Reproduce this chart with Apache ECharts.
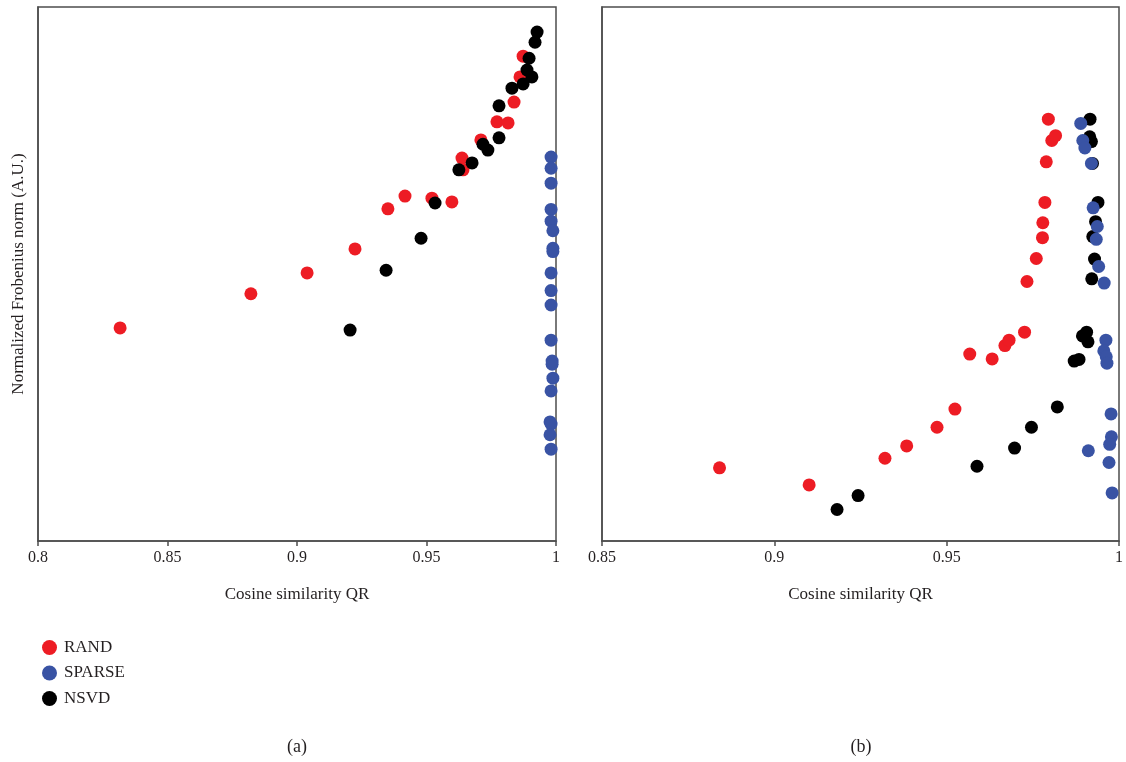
<!DOCTYPE html>
<html lang="en">
  <head>
    <meta charset="UTF-8" />
    <title>Cosine similarity QR vs Frobenius norm</title>
    <script src="https://cdn.jsdelivr.net/npm/echarts@6/dist/echarts.min.js"></script>
    <style>
      html, body { margin: 0; padding: 0; background: #fff; }
    </style>
  </head>
  <body>
    <div id="main" style="width: 1126px; height: 762px"></div>
    <script type="text/javascript">
      // panel (a): [cosine similarity, normalized norm]
      const randA = [
        [0.8317, 39.9], [0.8822, 46.3], [0.9039, 50.2], [0.9224, 54.7], [0.9351, 62.2],
        [0.9417, 64.6], [0.9521, 64.2], [0.9598, 63.5], [0.9637, 71.7], [0.9641, 69.5],
        [0.971, 75.1], [0.9772, 78.5], [0.9815, 78.3], [0.9838, 82.2], [0.9861, 86.9],
        [0.9873, 90.8]
      ];
      const sparseA = [
        [0.9981, 71.9], [0.9981, 69.8], [0.9981, 67.0], [0.9981, 62.1], [0.9981, 59.9],
        [0.9988, 58.1], [0.9988, 54.8], [0.9988, 54.2], [0.9981, 50.2], [0.9981, 46.9],
        [0.9981, 44.2], [0.9981, 37.6], [0.9985, 33.7], [0.9985, 33.1], [0.9988, 30.5],
        [0.9981, 28.1], [0.9977, 22.3], [0.9981, 21.9], [0.9977, 19.9], [0.9981, 17.2]
      ];
      const nsvdA = [
        [0.9205, 39.5], [0.9344, 50.7], [0.9479, 56.7], [0.9533, 63.3], [0.9625, 69.5],
        [0.9676, 70.8], [0.9718, 74.3], [0.9737, 73.2], [0.978, 75.5], [0.978, 81.5],
        [0.983, 84.8], [0.9873, 85.6], [0.9888, 88.2], [0.9907, 86.9], [0.9896, 90.4],
        [0.9919, 93.4], [0.9927, 95.3]
      ];

      // panel (b)
      const randB = [
        [0.8841, 13.7], [0.9101, 10.5], [0.9321, 15.5], [0.9384, 17.8], [0.9472, 21.3],
        [0.9524, 24.7], [0.9567, 35.0], [0.9632, 34.1], [0.9669, 36.6], [0.9681, 37.6],
        [0.9726, 39.1], [0.9733, 48.6], [0.976, 52.9], [0.9778, 56.8], [0.9779, 59.6],
        [0.9785, 63.4], [0.9789, 71.0], [0.9805, 75.0], [0.9816, 75.9], [0.9795, 79.0]
      ];
      const sparseB = [
        [0.9889, 78.2], [0.9895, 75.0], [0.9901, 73.6], [0.992, 70.7], [0.9925, 62.4],
        [0.9937, 58.9], [0.9934, 56.5], [0.9941, 51.4], [0.9957, 48.3], [0.9962, 37.6],
        [0.9956, 35.6], [0.9963, 34.5], [0.9965, 33.3], [0.9977, 23.8], [0.9978, 19.5],
        [0.9973, 18.1], [0.9911, 16.9], [0.9971, 14.7], [0.998, 9.0]
      ];
      const nsvdB = [
        [0.9182, 5.9], [0.9243, 8.5], [0.9588, 14.0], [0.9697, 17.4], [0.9746, 21.3],
        [0.9821, 25.1], [0.987, 33.7], [0.9884, 34.0], [0.9894, 38.4], [0.9906, 39.1],
        [0.991, 37.3], [0.9921, 49.1], [0.9929, 52.8], [0.9924, 57.0], [0.9932, 59.8],
        [0.9939, 63.4], [0.9923, 70.7], [0.992, 74.8], [0.9915, 75.7], [0.9916, 79.0]
      ];

      const seriesNames = ["RAND", "SPARSE", "NSVD"];
      const colors = { RAND: "#ed1c24", SPARSE: "#3953a4", NSVD: "#000000" };
      const zOrder = { RAND: 2, SPARSE: 4, NSVD: 3 };

      const font = "'Liberation Serif', 'DejaVu Serif', serif";
      const ink = "#231f20";
      const frame = "#4d4d4d";

      function xAxisFor(idx, min) {
        return {
          gridIndex: idx,
          type: "value",
          min: min,
          max: 1,
          interval: 0.05,
          name: "Cosine similarity QR",
          nameLocation: "middle",
          nameGap: 45,
          nameTextStyle: { fontFamily: font, fontSize: 17, color: ink },
          axisLine: { show: true, lineStyle: { color: frame, width: 1.5 } },
          axisTick: { show: true, inside: false, length: 5, lineStyle: { color: frame, width: 1.5 } },
          axisLabel: {
            fontFamily: font, fontSize: 16, color: ink, margin: 9,
            formatter: (v) => String(+v.toFixed(2))
          },
          splitLine: { show: false }
        };
      }

      function yAxisFor(idx, title) {
        return {
          gridIndex: idx,
          type: "value",
          min: 0,
          max: 100,
          name: title,
          nameLocation: "middle",
          nameGap: 11,
          nameTextStyle: { fontFamily: font, fontSize: 17, color: ink },
          axisLine: { show: true, lineStyle: { color: frame, width: 1.5 } },
          axisTick: { show: false },
          axisLabel: { show: false },
          splitLine: { show: false }
        };
      }

      const panels = [
        { RAND: randA, SPARSE: sparseA, NSVD: nsvdA },
        { RAND: randB, SPARSE: sparseB, NSVD: nsvdB }
      ];

      const series = [];
      panels.forEach((p, i) => {
        seriesNames.forEach((name) => {
          series.push({
            name: name,
            type: "scatter",
            xAxisIndex: i,
            yAxisIndex: i,
            symbol: "circle",
            symbolSize: 13,
            z: zOrder[name],
            itemStyle: { color: colors[name], opacity: 1 },
            emphasis: { disabled: true },
            data: p[name]
          });
        });
      });

      let myChart = echarts.init(document.getElementById("main"));
      let options = {
        backgroundColor: "#fff",
        animation: false,
        grid: [
          { left: 38, right: 570, top: 7, bottom: 221, show: true, borderColor: frame, borderWidth: 1.5 },
          { left: 602, right: 5, top: 7, bottom: 221, show: true, borderColor: frame, borderWidth: 1.5 }
        ],
        xAxis: [xAxisFor(0, 0.8), xAxisFor(1, 0.85)],
        yAxis: [yAxisFor(0, "Normalized Frobenius norm (A.U.)"), yAxisFor(1, "")],
        legend: {
          data: seriesNames,
          orient: "vertical",
          left: 37,
          top: 634,
          itemGap: 8.5,
          itemWidth: 15,
          itemHeight: 15,
          icon: "circle",
          textStyle: { fontFamily: font, fontSize: 17, color: ink, padding: [0, 0, 0, 2] }
        },
        title: [
          { text: "(a)", left: 292, top: 733, textAlign: "center",
            textStyle: { fontFamily: font, fontSize: 18, fontWeight: "normal", color: ink } },
          { text: "(b)", left: 856, top: 733, textAlign: "center",
            textStyle: { fontFamily: font, fontSize: 18, fontWeight: "normal", color: ink } }
        ],
        series: series
      };
      myChart.setOption(options);
    </script>
  </body>
</html>
